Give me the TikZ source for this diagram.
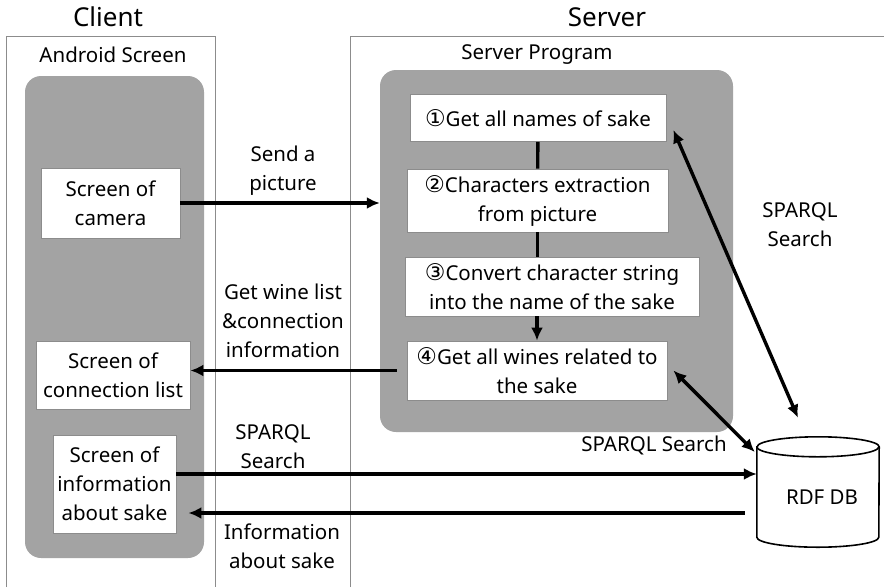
\documentclass[tikz,border=0pt]{standalone}
\usepackage{fontspec}
\setmainfont{Noto Sans}
\newfontfamily\circfont{DejaVu Sans}
\usetikzlibrary{arrows.meta}
\definecolor{panelgray}{HTML}{A3A3A3}
\definecolor{framegray}{HTML}{8C8C8C}
\newcommand{\circnum}[1]{{\circfont\fontsize{23}{28}\selectfont #1}}
\begin{document}
\begin{tikzpicture}[x=1pt, y=-1pt,
        every node/.style = {font=\fontsize{20.5}{29}\selectfont, align=center, inner sep=0pt},
        title/.style = {font=\fontsize{26}{30}\selectfont},
        panel/.style = {fill=panelgray, rounded corners=16pt},
        screen/.style = {fill=white, draw=framegray, line width=0.8pt},
        flowline/.style = {line width=3.4pt},
        flow/.style = {-{Latex[length=13pt,width=12pt]}, line width=3.4pt},
        twoway/.style = {{Latex[length=13pt,width=12pt]}-{Latex[length=13pt,width=12pt]}, line width=3.4pt}]
    \useasboundingbox (0,0) rectangle (884,587);

    % frames
    \draw[framegray, line width=0.8pt] (6,587) -- (6,36) -- (215,36) -- (215,587);
    \draw[framegray, line width=0.8pt] (350,587) -- (350,36) -- (884,36);
    \node[title] (client) at (108,17) {Client};
    \node[title] (server) at (607,17) {Server};
    \node (android) at (113,55) {Android Screen};
    \node (program) at (537,55) {Server Program};

    % grey panels
    \node[panel, minimum width=179pt, minimum height=482pt] (phone) at (114.5,317) {};
    \node[panel, minimum width=353pt, minimum height=362pt] (prog) at (556.5,251) {};

    % client screens
    \node[screen, minimum width=139pt, minimum height=70pt] (cam) at (110.5,203) {Screen of\\camera};
    \node[screen, minimum width=154pt, minimum height=68pt] (conn) at (113,375) {Screen of\\connection list};
    \node[screen, minimum width=123pt, minimum height=98pt] (info) at (114.5,484) {Screen of\\information\\about sake};

    % server steps
    \node[screen, minimum width=256pt, minimum height=47pt] (s1) at (538,118) {\circnum{①}Get all names of sake};
    \node[screen, minimum width=261pt, minimum height=63pt] (s2) at (537.5,200.5) {\circnum{②}Characters extraction\\from picture};
    \node[screen, minimum width=294pt, minimum height=59pt] (s3) at (552,286.5) {\circnum{③}Convert character string\\into the name of the sake};
    \node[screen, minimum width=260pt, minimum height=59pt] (s4) at (537,370.5) {\circnum{④}Get all wines related to\\the sake};

    % database (cylinder drawn round the node)
    \node[minimum width=122pt, minimum height=110pt] (db) at (818,492) {};
    \draw[line width=1.6pt, fill=white] ([yshift=-10pt]db.north west) -- ([yshift=10pt]db.south west)
        arc[start angle=180, end angle=0, x radius=61, y radius=10] -- ([yshift=-10pt]db.north east)
        arc[start angle=0, end angle=-180, x radius=61, y radius=10] -- cycle;
    \draw[line width=1.6pt] ([yshift=-10pt]db.north west) arc[start angle=180, end angle=0, x radius=61, y radius=10];
    \node (dblabel) at ([shift={(4pt,-5pt)}]db.center) {RDF DB};

    % steps
    \draw[flowline] (s1) -- (s2);
    \draw[flowline] (s2.south) -- (s2.south |- s3.north);
    \draw[flow] (s3.south -| s4.north) -- (s4.north);

    % client <-> server
    \draw[flow] (cam.east) -- (cam.east -| prog.west);
    \node (send) at (283,171) {Send a\\picture};
    \draw[flow, shorten <=10pt] (s4.west) -- (s4.west -| conn.east);
    \node (wine) at (283,321) {Get wine list\\\&connection\\information};
    \draw[flow] ([yshift=10pt]info.east) -- ([yshift=10pt]info.east -| db.west);
    \node (query) at (273,447) {SPARQL\\Search};
    \draw[flow, shorten <=12pt, shorten >=12pt] ([yshift=-29pt]info.east -| db.west) -- ([yshift=-29pt]info.east);
    \node (answer) at (282,546) {Information\\about sake};

    % server <-> database
    \draw[twoway] ([shift={(7pt,-12pt)}]s1.east) -- ([shift={(-20pt,19pt)}]db.north);
    \draw[twoway] ([xshift=6pt]s4.east) -- ([shift={(-2pt,40pt)}]db.west);
    \node (sparqlA) at (800,225) {SPARQL\\Search};
    \node (sparqlB) at (654,445) {SPARQL Search};
\end{tikzpicture}
\end{document}
